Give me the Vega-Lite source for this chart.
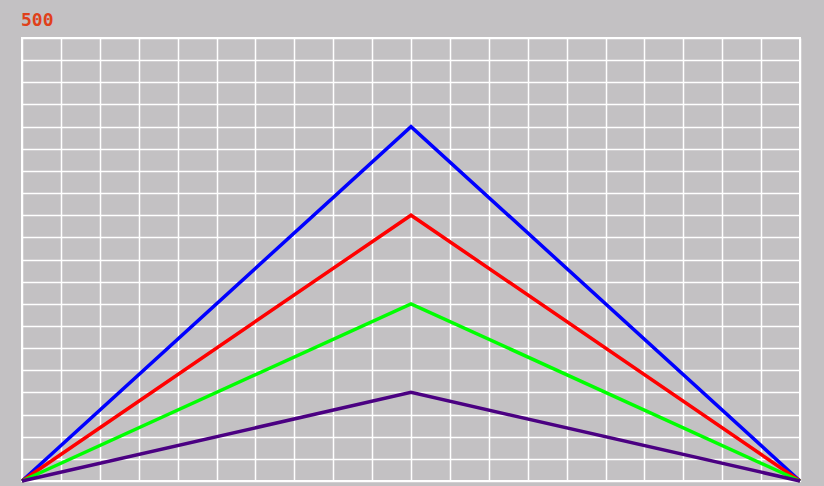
{
  "$schema": "https://vega.github.io/schema/vega-lite/v6.json",
  "width": 778,
  "height": 443,
  "autosize": {"type": "none"},
  "padding": {"left": 22, "top": 38, "right": 24, "bottom": 5},
  "background": "#c3c1c3",
  "title": {"text": "500", "anchor": "start", "fontSize": 18, "color": "#e0401a", "font": "DejaVu Sans Mono", "fontWeight": "bold", "offset": 8, "dx": 6},
  "config": {"view": {"stroke": "#ffffff", "strokeWidth": 2, "fill": "#c3c1c3"}},
  "data": {"values": [
    {"x": 0, "y": 0, "s": "a"}, {"x": 10, "y": 16, "s": "a"}, {"x": 20, "y": 0, "s": "a"},
    {"x": 0, "y": 0, "s": "b"}, {"x": 10, "y": 12, "s": "b"}, {"x": 20, "y": 0, "s": "b"},
    {"x": 0, "y": 0, "s": "c"}, {"x": 10, "y": 8, "s": "c"}, {"x": 20, "y": 0, "s": "c"},
    {"x": 0, "y": 0, "s": "d"}, {"x": 10, "y": 4, "s": "d"}, {"x": 20, "y": 0, "s": "d"}
  ]},
  "mark": {"type": "line", "strokeWidth": 3.5, "clip": false},
  "encoding": {
    "x": {"field": "x", "type": "quantitative", "scale": {"domain": [0, 20], "nice": false},
      "axis": {"title": null, "labels": false, "ticks": false, "domain": false, "grid": true, "gridColor": "#ffffff", "gridOpacity": 1, "gridWidth": 1.5, "values": [0,1,2,3,4,5,6,7,8,9,10,11,12,13,14,15,16,17,18,19,20]}},
    "y": {"field": "y", "type": "quantitative", "scale": {"domain": [0, 20], "nice": false},
      "axis": {"title": null, "labels": false, "ticks": false, "domain": false, "grid": true, "gridColor": "#ffffff", "gridOpacity": 1, "gridWidth": 1.5, "values": [0,1,2,3,4,5,6,7,8,9,10,11,12,13,14,15,16,17,18,19,20]}},
    "color": {"field": "s", "type": "nominal", "legend": null,
      "scale": {"domain": ["a", "b", "c", "d"], "range": ["#0000ff", "#ff0000", "#00ff00", "#4b0082"]}},
    "order": {"field": "x"}
  }
}
